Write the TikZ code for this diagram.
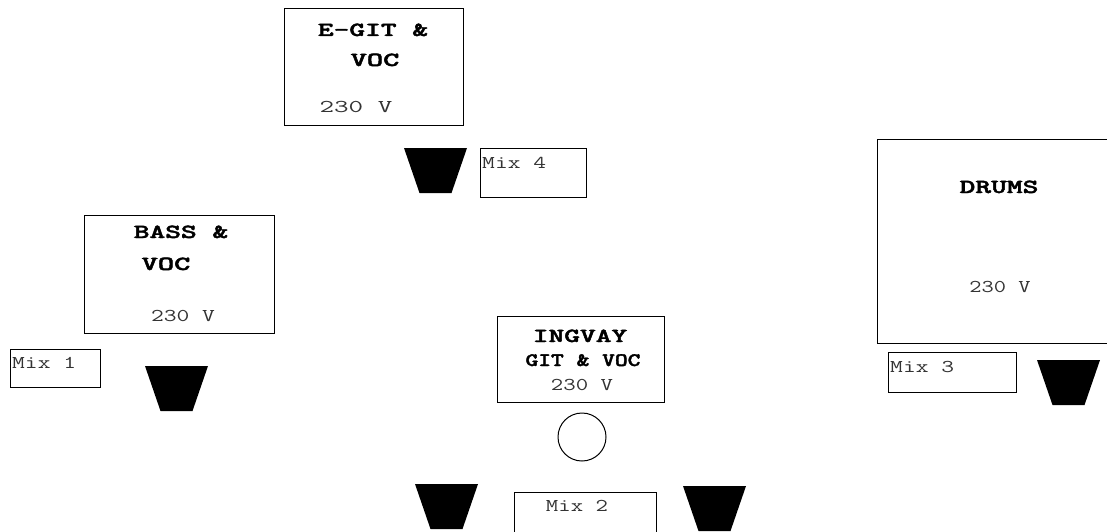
\documentclass[tikz,border=0pt]{standalone}
\usepackage{graphicx}
\usepackage{fontspec}
\newfontfamily\ttbold[FakeBold=1.8]{lmmonolt10-bold.otf}
\definecolor{txtgray}{HTML}{333333}
\newcommand\sx[2]{\scalebox{#1}[1]{#2}}
\tikzset{
  box/.style={draw=black, line width=1pt},
  bandtxt/.style={anchor=base, inner sep=0pt, font=\ttbold\fontsize{20}{22}\selectfont, text=black},
  smallband/.style={anchor=base, inner sep=0pt, font=\ttbold\fontsize{19}{21}\selectfont, text=black},
  regtxt/.style={anchor=base, inner sep=0pt, font=\ttfamily\fontsize{18}{20}\selectfont, text=txtgray},
  mixtxt/.style={anchor=base west, inner sep=0pt, font=\ttfamily\fontsize{18}{20}\selectfont, text=txtgray},
  spk/.style={fill=black},
}
\newcommand\speaker[2]{% top-left x, top y
  \fill[spk] (#1,#2) -- ++(63,0) -- ++(-15.5,45) -- ++(-32,0) -- cycle;}
\begin{document}
\begin{tikzpicture}[x=1pt,y=-1pt]
\useasboundingbox (0,0) rectangle (1107,532);
\clip (0,0) rectangle (1107,532);
% E-GIT & VOC
\draw[box] (284,9) rectangle (463,125);
\node[bandtxt] (egit1) at (373,36) {\sx{1.5}{E-GIT \&}};
\node[bandtxt] (egit2) at (375,66) {\sx{1.55}{VOC}};
\node[regtxt] (egitv) at (356,113) {\sx{1.57}{230 V}};
\speaker{404}{148}
\draw[box] (480,148) rectangle (586,197);
\node[mixtxt] (mix4) at (482,168) {\sx{1.38}{Mix 4}};
% BASS & VOC
\draw[box] (84,215) rectangle (274,333);
\node[bandtxt] (bass1) at (181,238) {\sx{1.5}{BASS \&}};
\node[bandtxt] (bass2) at (166,270) {\sx{1.55}{VOC}};
\node[regtxt] (bassv) at (183,321) {\sx{1.38}{230 V}};
\draw[box] (10,349) rectangle (100,387);
\node[mixtxt] (mix1) at (12,368) {\sx{1.38}{Mix 1}};
\speaker{145}{366}
% INGVAY
\draw[box] (497,316) rectangle (664,402);
\node[bandtxt] (ing1) at (580,342) {\sx{1.5}{INGVAY}};
\node[smallband] (ing2) at (583,366) {\sx{1.28}{GIT \& VOC}};
\node[regtxt] (ingv) at (582,390) {\sx{1.34}{230 V}};
\draw[line width=1pt] (582,437) circle (24);
\speaker{415}{484}
\speaker{683}{486}
\draw[box] (514,492) rectangle (656,540);
\node[regtxt] (mix2) at (577,511) {\sx{1.34}{Mix 2}};
% DRUMS
\draw[box] (877,139) rectangle (1120,343);
\node[bandtxt] (drums) at (999,193) {\sx{1.5}{DRUMS}};
\node[regtxt] (drumsv) at (1000,292) {\sx{1.32}{230 V}};
\draw[box] (888,352) rectangle (1016,392);
\node[mixtxt] (mix3) at (890,372) {\sx{1.38}{Mix 3}};
\speaker{1037}{360}
\end{tikzpicture}
\end{document}
